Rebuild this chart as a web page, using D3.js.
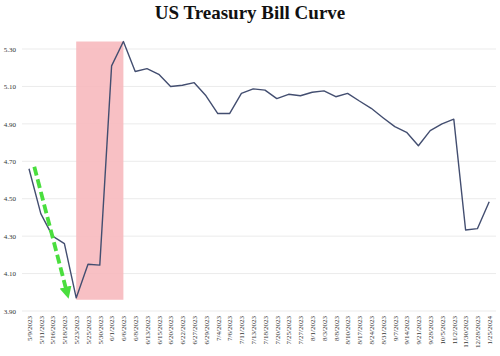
<!DOCTYPE html>
<html><head><meta charset="utf-8">
<script src="https://cdn.jsdelivr.net/npm/d3@7"></script>
<style>
html,body{margin:0;padding:0;background:#fff;}
svg{display:block;}
</style></head>
<body>
<script>
const dates = ["5/9/2023","5/11/2023","5/16/2023","5/18/2023","5/23/2023","5/25/2023","5/30/2023","6/1/2023","6/6/2023","6/8/2023","6/13/2023","6/15/2023","6/20/2023","6/22/2023","6/27/2023","6/29/2023","7/4/2023","7/6/2023","7/11/2023","7/13/2023","7/18/2023","7/20/2023","7/25/2023","7/27/2023","8/1/2023","8/3/2023","8/8/2023","8/10/2023","8/17/2023","8/24/2023","8/31/2023","9/7/2023","9/14/2023","9/21/2023","9/28/2023","10/5/2023","11/2/2023","11/30/2023","12/28/2023","1/25/2024"];
const yields = [4.66,4.42,4.30,4.26,3.97,4.15,4.145,5.21,5.34,5.18,5.195,5.165,5.10,5.106,5.12,5.05,4.955,4.955,5.063,5.087,5.08,5.035,5.058,5.05,5.069,5.076,5.045,5.063,5.022,4.983,4.933,4.885,4.855,4.783,4.864,4.90,4.925,4.333,4.34,4.484];
const yTicks = [3.90,4.10,4.30,4.50,4.70,4.90,5.10,5.30];
// highlighted window (category range and value range)
const shadeFrom = ["5/23/2023","6/6/2023"];
const shadeValues = [3.96,5.34];
// green arrow annotation, in (category index, value) units
const arrowStart = [0.45,4.671];
const arrowEnd = [3.2,4.003];
const title = "US Treasury Bill Curve";

const W=500,H=356;
const svg=d3.select("body").append("svg").attr("width",W).attr("height",H);

const x=d3.scalePoint().domain(dates).range([29,489.2]);
const y=d3.scaleLinear().domain([3.90,5.30]).range([311,49]);
const xi=d3.scaleLinear().domain([0,dates.length-1]).range([29,489.2]);

svg.append("text").attr("x",250).attr("y",19).attr("text-anchor","middle")
  .attr("font-family","Liberation Serif, serif").attr("font-weight","bold")
  .attr("font-size",19).attr("fill","#111").text(title);

// gridlines
svg.append("g").selectAll("line").data(yTicks).join("line")
  .attr("x1",22).attr("x2",496).attr("y1",d=>y(d)).attr("y2",d=>y(d))
  .attr("stroke","#ebebeb").attr("stroke-width",1);

// y axis labels
const yAxis=d3.axisLeft(y).tickValues(yTicks).tickFormat(d3.format(".2f")).tickSize(0).tickPadding(0);
const ga=svg.append("g").attr("transform","translate(16,0)").call(yAxis);
ga.select(".domain").remove();
ga.selectAll("text").attr("font-family","Liberation Serif, serif").attr("font-size",7).attr("fill","#333");

// shaded window
svg.append("rect")
  .attr("x",x(shadeFrom[0])).attr("width",x(shadeFrom[1])-x(shadeFrom[0]))
  .attr("y",y(shadeValues[1])).attr("height",y(shadeValues[0])-y(shadeValues[1]))
  .attr("fill","#f7b9be").attr("opacity",0.9);

// x axis labels
const xAxis=d3.axisBottom(x).tickSize(0).tickPadding(0);
const gx=svg.append("g").attr("transform","translate(0,316)").call(xAxis);
gx.select(".domain").remove();
gx.selectAll("text").attr("font-family","Liberation Serif, serif").attr("font-size",7).attr("fill","#333")
  .attr("text-anchor","end").attr("dy","0.32em").attr("transform","rotate(-90)");
gx.selectAll(".tick text").attr("x",0).attr("y",0);

// line
const line=d3.line().x((d,i)=>x(dates[i])).y(d=>y(d));
svg.append("path").datum(yields).attr("d",line).attr("fill","none")
  .attr("stroke","#434e70").attr("stroke-width",1.4).attr("stroke-linejoin","round");

// green dashed arrow
const defs=svg.append("defs");
defs.append("marker").attr("id","ah").attr("viewBox","0 0 10 10").attr("refX",4).attr("refY",5)
  .attr("markerWidth",3.2).attr("markerHeight",3.2).attr("orient","auto")
  .append("path").attr("d","M0,0 L10,5 L0,10 Z").attr("fill","#4ade3e");
const ax1=xi(arrowStart[0]),ay1=y(arrowStart[1]),ax2=xi(arrowEnd[0]),ay2=y(arrowEnd[1]);
svg.append("line").attr("x1",ax1).attr("y1",ay1).attr("x2",ax2).attr("y2",ay2)
  .attr("stroke","#4ade3e").attr("stroke-width",3.8).attr("stroke-dasharray","9,4")
  .attr("marker-end","url(#ah)");
</script>
</body></html>
